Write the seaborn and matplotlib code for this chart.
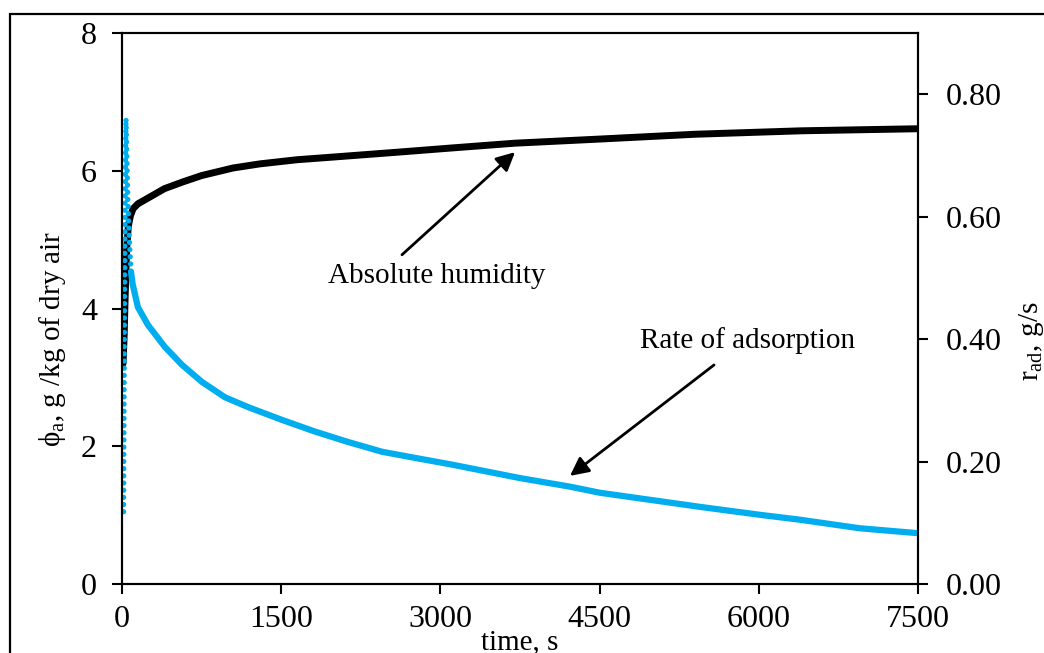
import numpy as np
import pandas as pd
import matplotlib
matplotlib.use("Agg")
import matplotlib.pyplot as plt
import seaborn as sns
from matplotlib.patches import Rectangle

# ---- data ----
hum_time = [10, 20, 30, 45, 60, 80, 105, 150, 264, 400, 577, 750, 1046, 1300,
            1649, 2000, 2600, 3100, 3700, 4500, 5400, 6400, 7500]
hum_val = [3.2, 3.6, 4.2, 4.9, 5.2, 5.35, 5.45, 5.52, 5.62, 5.74, 5.84, 5.93,
           6.04, 6.1, 6.16, 6.2, 6.27, 6.33, 6.40, 6.46, 6.53, 6.58, 6.61]

rate_time = [15, 22, 30, 38, 55, 70, 85, 100, 150, 245, 405, 565, 754, 970,
             1187, 1508, 1818, 2129, 2450, 2761, 3109, 3750, 4221, 4504, 5446,
             6011, 6388, 6953, 7500]
rate_val = [0.118, 0.39, 0.65, 0.76, 0.63, 0.56, 0.51, 0.49, 0.452, 0.423,
            0.387, 0.358, 0.330, 0.305, 0.289, 0.268, 0.249, 0.232, 0.216,
            0.206, 0.195, 0.173, 0.159, 0.149, 0.126, 0.113, 0.105, 0.091,
            0.083]

x_ticks = [0, 1500, 3000, 4500, 6000, 7500]
left_ticks = [0, 2, 4, 6, 8]
right_ticks = [0.0, 0.2, 0.4, 0.6, 0.8]

hum = pd.DataFrame({"t": hum_time, "v": hum_val})
rate = pd.DataFrame({"t": rate_time, "v": rate_val})
spike = rate[rate["t"] <= 150]
tail = rate[rate["t"] >= 85]

sns.set_style("white")
plt.rcParams["font.family"] = ["Liberation Serif", "DejaVu Serif"]
plt.rcParams["mathtext.fontset"] = "custom"
plt.rcParams["mathtext.rm"] = "Liberation Serif"
plt.rcParams["mathtext.it"] = "Liberation Serif:italic"
plt.rcParams["text.color"] = "black"
plt.rcParams["xtick.color"] = "black"
plt.rcParams["ytick.color"] = "black"
plt.rcParams["axes.labelcolor"] = "black"

W, H = 1044, 653
fig = plt.figure(figsize=(W / 100, H / 100), dpi=100)
ax = fig.add_axes([122 / W, 1 - 584 / H, (918 - 122) / W, (584 - 33) / H])
ax2 = ax.twinx()

BLACK = "#000000"
BLUE = "#00AEEF"

sns.lineplot(data=hum, x="t", y="v", ax=ax, color=BLACK, linewidth=5,
             solid_capstyle="round", solid_joinstyle="round")
sns.lineplot(data=tail, x="t", y="v", ax=ax2, color=BLUE, linewidth=4.5,
             solid_capstyle="round", solid_joinstyle="round")
sns.lineplot(data=spike, x="t", y="v", ax=ax2, color=BLUE, linewidth=3.8,
             linestyle=(0, (0.01, 1.35)), dash_capstyle="round")

ax.set_xlim(0, 7500)
ax.set_ylim(0, 8)
ax2.set_ylim(0, 0.9)
ax.set_xticks(x_ticks)
ax.set_xticklabels([str(v) for v in x_ticks])
ax.set_yticks(left_ticks)
ax.set_yticklabels([str(v) for v in left_ticks])
ax2.set_yticks(right_ticks)
ax2.set_yticklabels([f"{v:.2f}" for v in right_ticks])

for a in (ax, ax2):
    a.set_xlabel("")
    a.set_ylabel("")
    for s in a.spines.values():
        s.set_color("black")
        s.set_linewidth(1.5)
        s.set_visible(True)
    a.tick_params(direction="out", length=7, width=1.5, colors="black",
                  labelcolor="black", labelsize=23, pad=11)
ax.tick_params(axis="x", bottom=True, pad=8)
ax.tick_params(axis="y", left=True)
ax2.tick_params(axis="y", right=True, pad=13)
ax.set_facecolor("white")
fig.patch.set_facecolor("white")

# axis titles
fig.text(520 / W, 1 - 649 / H, "time, s", ha="center", va="baseline",
         fontsize=21, color="black")
fig.text(52 / W, 1 - 339 / H, r"$\mathregular{\phi_{a}}$, g /kg of dry air",
         rotation=90, ha="center", va="center", fontsize=21, color="black")
fig.text(1031 / W, 1 - 341 / H, r"$\mathregular{r_{ad}}$, g/s",
         rotation=90, ha="center", va="center", fontsize=21, color="black")

# annotations
arrow = dict(arrowstyle="-|>", color="black", lw=2, mutation_scale=28,
             shrinkA=0, shrinkB=0)
ax.annotate("", xy=(3703, 6.27), xytext=(2638, 4.78), arrowprops=arrow)
ax.text(2968, 4.47, "Absolute humidity", ha="center", va="center",
        fontsize=21, color="black")
ax.annotate("", xy=(4221, 1.57), xytext=(5578, 3.18), arrowprops=arrow)
ax.text(5898, 3.54, "Rate of adsorption", ha="center", va="center",
        fontsize=21, color="black")

# outer frame of the figure
fig.patches.append(Rectangle((10 / W, -0.5), 2, (H - 14) / H + 0.5,
                             transform=fig.transFigure, fill=False,
                             edgecolor="black", linewidth=1.6,
                             clip_on=False))

fig.savefig("out.png", dpi=100, facecolor="white")
